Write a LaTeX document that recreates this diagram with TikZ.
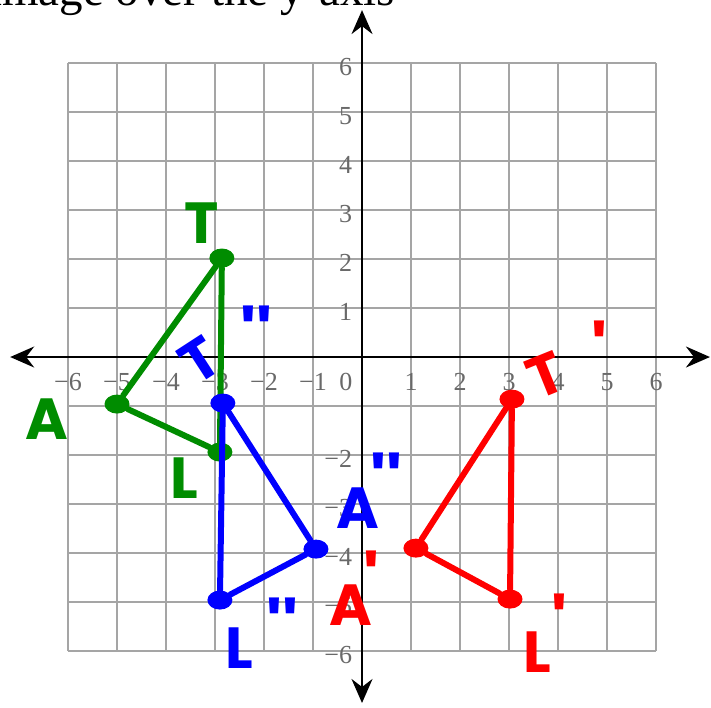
\documentclass[tikz,border=0pt]{standalone}
\usepackage{fontspec}
\setmainfont{Liberation Serif}
\newfontfamily\penfont{Poppins}
\usepackage{xcolor}
\usetikzlibrary{arrows.meta,shapes.geometric}
\definecolor{penGreen}{RGB}{0,140,0}
\definecolor{penBlue}{RGB}{0,0,255}
\definecolor{penRed}{RGB}{255,0,0}
\definecolor{gridGray}{RGB}{165,165,165}
\definecolor{tickGray}{RGB}{105,105,105}
\tikzset{
  gridline/.style={draw=gridGray, line width=1.3pt},
  axisline/.style={draw=black, line width=2pt,
    {Stealth[length=24pt,width=21pt,inset=8pt]}-{Stealth[length=24pt,width=21pt,inset=8pt]}},
  ticklabel/.style={font=\fontsize{26}{30}\selectfont, text=tickGray, inner sep=0pt},
  pen/.style={line width=6pt, line cap=round, line join=round},
  vertexdot/.style={ellipse, inner sep=0pt, minimum width=25pt, minimum height=19pt},
  hand/.style={font=\penfont\bfseries\fontsize{58}{66}\selectfont, inner sep=0pt},
  handprime/.style={font=\penfont\bfseries\fontsize{72}{80}\selectfont, inner sep=0pt},
}

\begin{document}
\begin{tikzpicture}[x=49pt, y=49pt]
      \useasboundingbox (-7.388,-7.143) rectangle (7.122,7.286);
      % title (cut off at the top)
      \node[anchor=base west, inner sep=0pt, font=\fontsize{47}{56}\selectfont] (title) at (-7.612,7.165) {image over the y-axis};
      % grid
      \draw[gridline, step={(1,1)}] (-6,-6) grid (6,6);
      % axes
      \coordinate (xl) at (-7.18,0);
      \coordinate (xr) at (7.10,0);
      \coordinate (yb) at (0,-7.06);
      \coordinate (yt) at (0,7.08);
      \draw[axisline] (xl) -- (xr);
      \draw[axisline] (yb) -- (yt);
      % tick labels
      \foreach \n in {1,...,6} {
        \node[ticklabel] (xp\n) at (\n,-0.51) {\n};
        \node[ticklabel] (xm\n) at (-\n,-0.51) {−\n};
        \node[ticklabel, anchor=east] (yp\n) at (-0.2,\n-0.08) {\n};
      }
      \foreach \n in {2,...,6} {
        \node[ticklabel, anchor=east] (ym\n) at (-0.2,-\n-0.08) {−\n};
      }
      \node[ticklabel] (zero) at (-0.33,-0.51) {0};
      % green triangle TAL
      \node[vertexdot, fill=penGreen] (T) at (-2.86,2.02) {};
      \node[vertexdot, fill=penGreen] (A) at (-5.00,-0.96) {};
      \node[vertexdot, fill=penGreen] (L) at (-2.90,-1.94) {};
      \draw[pen, penGreen] (T) -- (A) -- (L) -- (T);
      \node[hand, text=penGreen] (lT) at (-3.27,2.74) {T};
      \node[hand, text=penGreen] (lA) at (-6.43,-1.27) {A};
      \node[hand, text=penGreen] (lL) at (-3.63,-2.47) {L};
      % blue triangle T''A''L''
      \node[vertexdot, fill=penBlue] (T2) at (-2.84,-0.94) {};
      \node[vertexdot, fill=penBlue] (A2) at (-0.94,-3.92) {};
      \node[vertexdot, fill=penBlue] (L2) at (-2.90,-4.96) {};
      \draw[pen, penBlue] (T2) -- (A2) -- (L2) -- (T2);
      \node[hand, text=penBlue, rotate=33] (lT2) at (-3.31,-0.06) {T};
      \node[handprime, text=penBlue] (lT2p) at (-2.16,0.45) {''};
      \node[hand, text=penBlue] (lA2) at (-0.08,-3.08) {A};
      \node[handprime, text=penBlue] (lA2p) at (0.49,-2.55) {''};
      \node[hand, text=penBlue] (lL2) at (-2.51,-5.94) {L};
      \node[handprime, text=penBlue] (lL2p) at (-1.63,-5.50) {''};
      % red triangle T'A'L'
      \node[vertexdot, fill=penRed] (T1) at (3.06,-0.86) {};
      \node[vertexdot, fill=penRed] (A1) at (1.10,-3.90) {};
      \node[vertexdot, fill=penRed] (L1) at (3.02,-4.94) {};
      \draw[pen, penRed] (T1) -- (A1) -- (L1) -- (T1);
      \node[hand, text=penRed, rotate=22] (lT1) at (3.76,-0.37) {T};
      \node[handprime, text=penRed] (lT1p) at (4.84,0.15) {'};
      \node[hand, text=penRed] (lA1) at (-0.22,-5.06) {A};
      \node[handprime, text=penRed] (lA1p) at (0.20,-4.55) {'};
      \node[hand, text=penRed] (lL1) at (3.57,-6.02) {L};
      \node[handprime, text=penRed] (lL1p) at (4.02,-5.42) {'};
    \end{tikzpicture}
\end{document}
